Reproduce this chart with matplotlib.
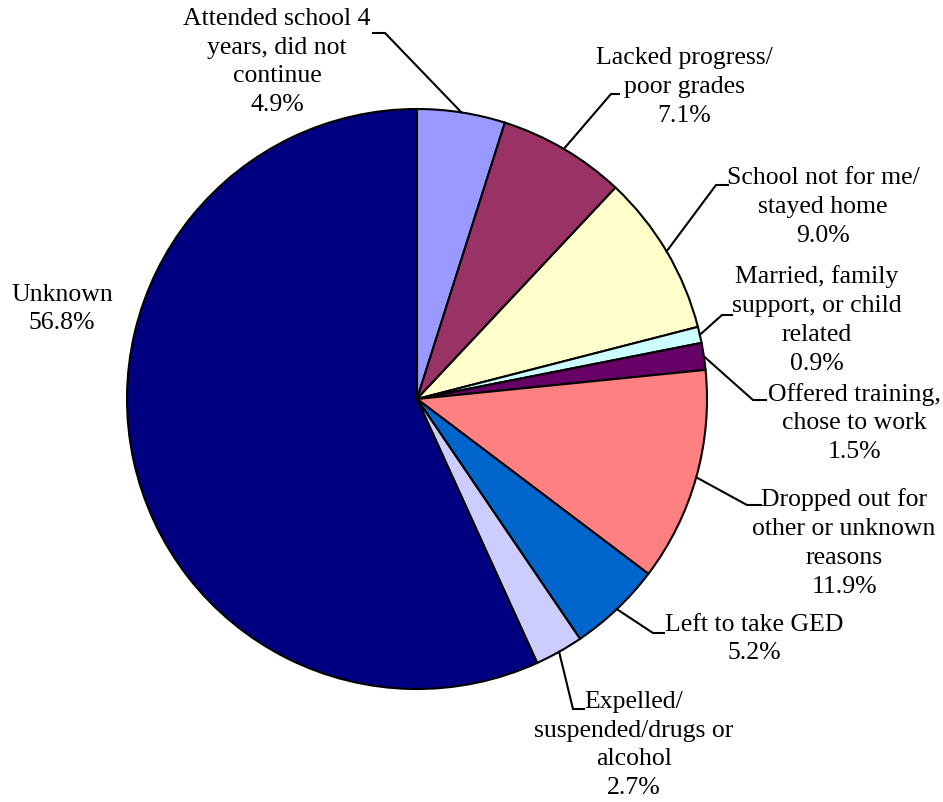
import numpy as np
import matplotlib
matplotlib.use("Agg")
import matplotlib.pyplot as plt

# ---- data ----
labels = [
    "Attended school 4\nyears, did not\ncontinue",
    "Lacked progress/\npoor grades",
    "School not for me/\nstayed home",
    "Married, family\nsupport, or child\nrelated",
    "Offered training,\nchose to work",
    "Dropped out for\nother or unknown\nreasons",
    "Left to take GED",
    "Expelled/\nsuspended/drugs or\nalcohol",
    "Unknown",
]
values = [4.9, 7.1, 9.0, 0.9, 1.5, 11.9, 5.2, 2.7, 56.8]
colors = ["#9999FF", "#993366", "#FFFFCC", "#CCFFFF", "#660066",
          "#FF8080", "#0066CC", "#CCCCFF", "#000080"]

# ---- layout (pixel coords, origin top-left) ----
W, H = 943, 802
cx, cy, R = 417, 399, 290
text_pos = [(277, 62), (684, 87), (823, 207), (817, 320), (854, 423),
            (844, 543), (754, 639), (634, 745), (62, 309)]
# elbow point and end of horizontal segment for leader lines (None = no leader)
elbows = [((385, 33), (373, 33)), ((611, 94), (619, 94)), ((716, 185), (728, 185)),
          ((722, 315), (732, 315)), ((753, 400), (766, 400)), ((747, 505), (761, 505)),
          ((653, 633), (664, 633)), ((573, 709), (584, 709)), None]

plt.rcParams['font.family'] = ['Liberation Serif', 'DejaVu Serif']

fig = plt.figure(figsize=(W / 100, H / 100), dpi=100)
ax = fig.add_axes([0, 0, 1, 1])

def fy(y):
    return H - y

wedges, _ = ax.pie(values, colors=colors, startangle=90, counterclock=False,
                   center=(cx, fy(cy)), radius=R,
                   wedgeprops=dict(edgecolor='black', linewidth=1.5), frame=True)
ax.set_xlim(0, W)
ax.set_ylim(0, H)
ax.axis('off')

total = sum(values)
cum = 0.0
for i, (lab, v) in enumerate(zip(labels, values)):
    mid = 90 - (cum + v / 2) / total * 360
    cum += v
    txt = f"{lab}\n{v:.1f}%"
    tx, ty = text_pos[i]
    ax.text(tx, fy(ty), txt, ha='center', va='center', multialignment='center',
            fontsize=18.5, color='black', linespacing=1.4)
    if elbows[i] is not None:
        ax_x = cx + R * np.cos(np.radians(mid))
        ax_y = fy(cy) + R * np.sin(np.radians(mid))
        (ex, ey), (hx, hy) = elbows[i]
        ax.plot([ax_x, ex, hx], [ax_y, fy(ey), fy(hy)], color='black', lw=1.5,
                solid_joinstyle='miter')

fig.savefig("out.png", dpi=100, facecolor='white')
